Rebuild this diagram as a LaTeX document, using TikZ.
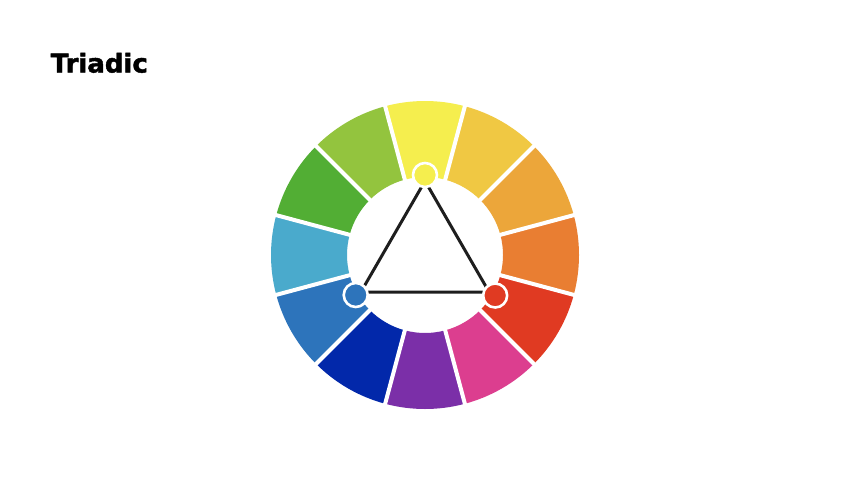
\documentclass[tikz,border=0pt]{standalone}
\usepackage{fontspec}
\newfontfamily\titlefont{DejaVu Sans}[BoldFeatures={FakeBold=1.6}]
\definecolor{cA}{HTML}{F5EE4E}
\definecolor{cB}{HTML}{F0C843}
\definecolor{cC}{HTML}{ECA63A}
\definecolor{cD}{HTML}{E97E32}
\definecolor{cE}{HTML}{E03A22}
\definecolor{cF}{HTML}{DC3E8F}
\definecolor{cG}{HTML}{7B2FA8}
\definecolor{cH}{HTML}{0228AA}
\definecolor{cI}{HTML}{2D74BB}
\definecolor{cJ}{HTML}{4AAACC}
\definecolor{cK}{HTML}{52AE34}
\definecolor{cL}{HTML}{93C43E}
\definecolor{lineblack}{HTML}{1E1E1E}
\tikzset{
  gap/.style={white, line width=4pt},
  dot/.style={circle, draw=white, line width=2.6pt, minimum size=24pt, inner sep=0pt},
  triline/.style={lineblack, line width=3pt},
  title/.style={anchor=base west, inner sep=0pt, font=\titlefont\bfseries\fontsize{26}{30}\selectfont}
}
\begin{document}
\begin{tikzpicture}[x=1pt,y=-1pt]
\useasboundingbox[fill=white] (0,0) rectangle (850,479);
\node[title] (t) at (50.5,72.5) {Triadic};
\begin{scope}[shift={(425,255)}, y=1pt]
  \foreach \a/\c in {90/cA,60/cB,30/cC,0/cD,-30/cE,-60/cF,-90/cG,-120/cH,-150/cI,180/cJ,150/cK,120/cL}{
    \fill[\c] (\a-15:78pt) -- (\a-15:154pt)
      arc[start angle=\a-15, end angle=\a+15, radius=154pt]
      -- (\a+15:78pt)
      arc[start angle=\a+15, end angle=\a-15, radius=78pt] -- cycle;
  }
  \foreach \a in {0,30,...,330}{
    \draw[gap] (\a+15:70pt) -- (\a+15:160pt);
  }
  \coordinate (ty) at (90:74pt);
  \coordinate (tr) at (-30:74pt);
  \coordinate (tb) at (210:74pt);
  \draw[triline] (ty) -- (tr) -- (tb) -- cycle;
  \node[dot, fill=cA] (dy) at (90:80pt) {};
  \node[dot, fill=cE] (dr) at (-30:81pt) {};
  \node[dot, fill=cI] (db) at (210:80pt) {};
\end{scope}
\end{tikzpicture}
\end{document}
